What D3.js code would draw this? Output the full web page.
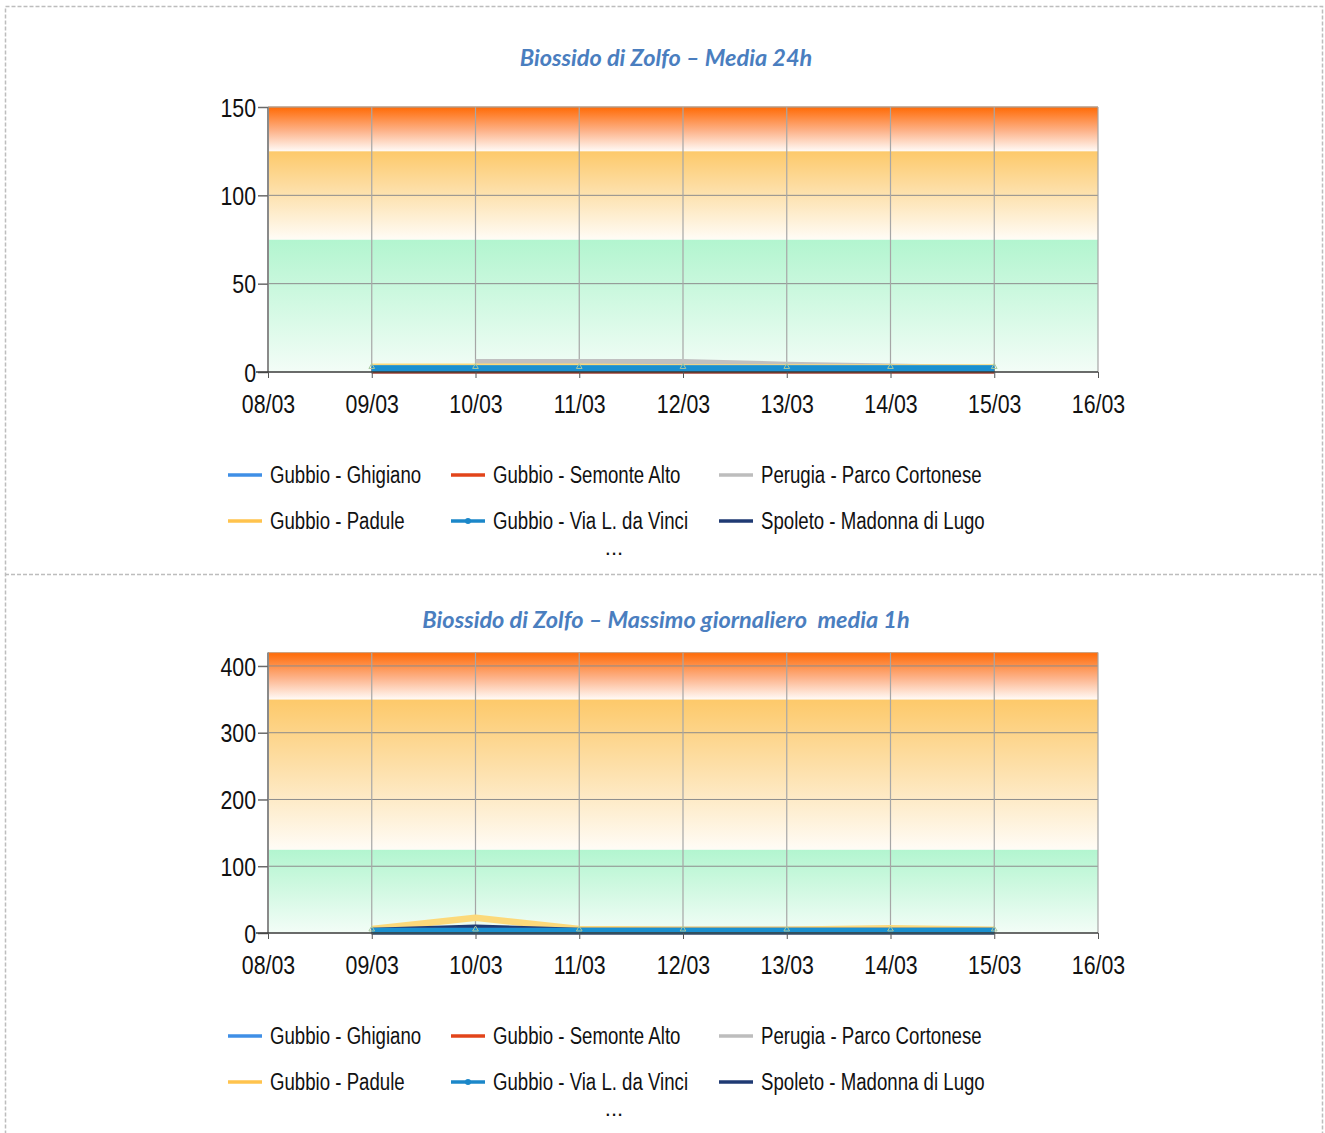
<!DOCTYPE html>
<html><head><meta charset="utf-8">
<script src="https://cdn.jsdelivr.net/npm/d3@7"></script>
<style>
body{margin:0;background:#fff}
svg text{font-family:"Liberation Sans",Arial,sans-serif;fill:#111}
</style>
</head><body>
<svg id="c" width="1325" height="1133"></svg>
<script>
// ---------- DATA ----------
const dates = ["08/03","09/03","10/03","11/03","12/03","13/03","14/03","15/03","16/03"];
const dataDates = ["09/03","10/03","11/03","12/03","13/03","14/03","15/03"];
const seriesNames = ["Gubbio - Ghigiano","Gubbio - Semonte Alto","Perugia - Parco Cortonese",
                     "Gubbio - Padule","Gubbio - Via L. da Vinci","Spoleto - Madonna di Lugo"];
const seriesColors = ["#3f8fe6","#e2441a","#bdbdbd","#ffc34d","#1b87c9","#1f3a73"];
const plotColors   = ["#2a95dc","#e2441a","#c0c0c0","#fcd97a","#1a90d0","#1f3a73"];
const drawOrder = [2,3,5,1,0,4];

const titles = ["Biossido di Zolfo \u2013 Media 24h", "Biossido di Zolfo \u2013 Massimo giornaliero\u00a0 media 1h"];

// Chart 1: media 24h
const ghigiano24h = [2, 2, 2, 2, 2, 2, 2];
const semonte24h  = [1, 1, 1, 1, 1, 1, 1];
const perugia24h  = [null, 5.5, 5.5, 5.5, 4, 3, 2];
const padule24h   = [3, 3, 3, 2.5, 2.5, 2.5, 2.5];
const vinci24h    = [1.8, 1.8, 1.8, 1.8, 1.8, 1.8, 1.8];
const spoleto24h  = [1, 1, 1, 1, 1, 1, 1];
const ticks24h = [0, 50, 100, 150];
const bands24h = [0, 75, 125, 150];

// Chart 2: massimo giornaliero media 1h
const ghigiano1h = [3, 3, 3, 3, 3, 3, 3];
const semonte1h  = [2, 2, 2, 2, 2, 2, 2];
const perugia1h  = [null, 5, 5, 5, 5, 5, 4];
const padule1h   = [6, 23, 6, 5, 5, 7, 5];
const vinci1h    = [2.5, 2.5, 2.5, 2.5, 2.5, 2.5, 2.5];
const spoleto1h  = [3, 8, 3, 3, 3, 3, 3];
const ticks1h = [0, 100, 200, 300, 400];
const bands1h = [0, 125, 350, 420];

// ---------- DRAW ----------
const svg = d3.select("#c");
const defs = svg.append("defs");

function grad(id, stops){
  const g = defs.append("linearGradient").attr("id", id).attr("x1",0).attr("y1",0).attr("x2",0).attr("y2",1);
  stops.forEach(s => g.append("stop").attr("offset", s[0]).attr("stop-color", s[1]));
}
grad("gOrange", [[0,"#ff6a05"],[0.55,"#fdb48c"],[1,"#fffaf6"]]);
grad("gYellow", [[0,"#fdc96a"],[0.5,"#fde2b0"],[1,"#fffcf6"]]);
grad("gGreen",  [[0,"#b2f5cf"],[1,"#f3fdf7"]]);
const bandFills = ["url(#gGreen)","url(#gYellow)","url(#gOrange)"];

function narrow(sel, f){
  sel.each(function(){
    const w = this.getComputedTextLength();
    d3.select(this).attr("textLength", w*f).attr("lengthAdjust","spacingAndGlyphs");
  });
}

const frame = svg.append("g").attr("fill","none").attr("stroke","#bdbdbd").attr("stroke-width",1.5).attr("stroke-dasharray","4,2");
frame.append("rect").attr("x",5.5).attr("y",6.5).attr("width",1317).attr("height",1140);
frame.append("line").attr("x1",5).attr("x2",1323).attr("y1",574.5).attr("y2",574.5);

const x = d3.scalePoint().domain(dates).range([268, 1098]).padding(0);

function drawChart(cfg){
  const y = d3.scaleLinear().domain([0, cfg.ymax]).range([cfg.y0, cfg.y1]);
  const g = svg.append("g");

  g.append("text").attr("x", 666).attr("y", cfg.titleY)
    .attr("text-anchor","middle")
    .style("font-family","Lato,'Open Sans',sans-serif")
    .style("font-style","italic").style("font-weight","bold")
    .style("font-size","23.5px").style("fill","#4a7ebf")
    .text(cfg.title);

  for(let i=0;i<cfg.bands.length-1;i++){
    g.append("rect").attr("x", x(dates[0])).attr("width", x(dates[dates.length-1]) - x(dates[0]))
      .attr("y", y(cfg.bands[i+1])).attr("height", y(cfg.bands[i]) - y(cfg.bands[i+1]))
      .attr("fill", bandFills[i]);
  }
  g.append("g").selectAll("line").data(cfg.ticks.filter(t=>t>0)).join("line")
    .attr("x1", x(dates[0])).attr("x2", x(dates[dates.length-1]))
    .attr("y1", d=>y(d)).attr("y2", d=>y(d)).attr("stroke","#8c8c8c").attr("stroke-width",1);
  g.append("g").selectAll("line").data(dates.slice(1)).join("line")
    .attr("x1", d=>x(d)).attr("x2", d=>x(d))
    .attr("y1", y(cfg.ymax)).attr("y2", y(0)).attr("stroke","#a6a6a6").attr("stroke-width",1.2);
  g.append("line").attr("x1", x(dates[0])).attr("x2", x(dates[dates.length-1]))
    .attr("y1", y(cfg.ymax)).attr("y2", y(cfg.ymax)).attr("stroke","#c8a080").attr("stroke-width",1);

  const line = d3.line().defined(d=>d.v!=null).x(d=>x(d.d)).y(d=>y(d.v));
  drawOrder.forEach(si=>{
    const pts = cfg.series[si].map((v,i)=>({d:dataDates[i], v}));
    g.append("path").datum(pts).attr("d", line).attr("fill","none")
      .attr("stroke", plotColors[si]).attr("stroke-width", 6.5)
      .attr("stroke-linejoin","round").attr("stroke-linecap","butt");
  });
  const vin = cfg.series[4].map((v,i)=>({d:dataDates[i], v}));
  g.append("g").selectAll("path").data(vin).join("path")
    .attr("transform", d=>`translate(${x(d.d)},${y(d.v)-2})`)
    .attr("d", d3.symbol(d3.symbolTriangle, 14)())
    .attr("fill","none").attr("stroke","#a8c8a0").attr("stroke-width",1);

  const ya = g.append("g").attr("transform",`translate(${x(dates[0])},0)`)
    .call(d3.axisLeft(y).tickValues(cfg.ticks).tickSize(10).tickPadding(2));
  ya.select(".domain").attr("stroke","#8a8a8a").attr("stroke-width",2).attr("d", `M0,${y(cfg.ymax)}V${y(0)}`);
  ya.selectAll(".tick line").attr("stroke","#6a6a6a").attr("stroke-width",1.5);
  ya.selectAll(".tick text").style("font-size","26px").style("font-family","'Liberation Sans',Arial,sans-serif").attr("dy","0.35em");
  narrow(ya.selectAll(".tick text"), 0.82);

  const xa = g.append("g").attr("transform",`translate(0,${y(0)})`)
    .call(d3.axisBottom(x).tickSize(6).tickPadding(17));
  xa.select(".domain").attr("stroke","#3a3a3a").attr("stroke-width",1.5).attr("d", `M${x(dates[0])-12},0H${x(dates[dates.length-1])}`);
  xa.selectAll(".tick line").attr("stroke","#555");
  xa.selectAll(".tick text").style("font-size","26px").style("font-family","'Liberation Sans',Arial,sans-serif");
  narrow(xa.selectAll(".tick text"), 0.82);

  const colX = [228, 451, 719];
  const rowY = [cfg.legY, cfg.legY + 46];
  seriesNames.forEach((n, i)=>{
    const r = Math.floor(i/3), c = i%3;
    const lg = g.append("g").attr("transform", `translate(${colX[c]},${rowY[r]})`);
    lg.append("line").attr("x1",0).attr("x2",34).attr("y1",0).attr("y2",0)
      .attr("stroke", seriesColors[i]).attr("stroke-width",3.5);
    if(i===4) lg.append("circle").attr("cx",17).attr("cy",0).attr("r",3).attr("fill", seriesColors[i]);
    const t = lg.append("text").attr("x",42).attr("y",0).attr("dy","0.35em").style("font-size","23px").text(n);
    narrow(t, 0.81);
  });
  g.append("text").attr("x",614).attr("y",cfg.legY+80).attr("text-anchor","middle")
    .style("font-size","22px").text("...");
}

drawChart({title: titles[0], titleY: 66, ymax:150, y0:372, y1:107, ticks: ticks24h, bands: bands24h,
  series:[ghigiano24h, semonte24h, perugia24h, padule24h, vinci24h, spoleto24h], legY: 475});
drawChart({title: titles[1], titleY: 628, ymax:420, y0:933, y1:652.6, ticks: ticks1h, bands: bands1h,
  series:[ghigiano1h, semonte1h, perugia1h, padule1h, vinci1h, spoleto1h], legY: 1036});
</script>
</body></html>
